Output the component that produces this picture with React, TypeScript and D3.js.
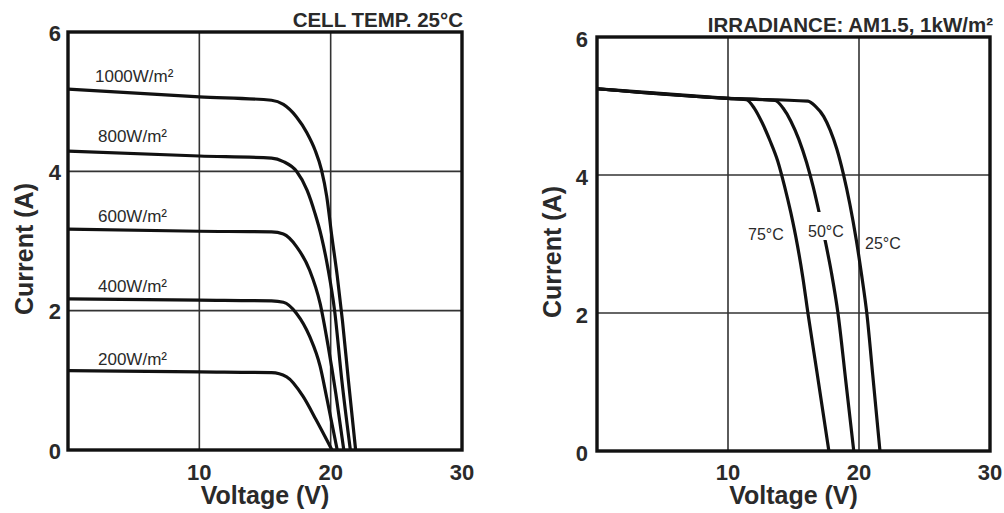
import React from "react";
import * as d3 from "d3";

// ---------- DATA ----------
const voltageTicks = [10, 20, 30];
const currentTicks = [0, 2, 4, 6];
const gridVoltages = [10, 20];
const gridCurrents = [2, 4];

const leftTitle = "CELL TEMP. 25°C";
const rightTitle = "IRRADIANCE: AM1.5, 1kW/m²";
const xAxisTitle = "Voltage (V)";
const yAxisTitle = "Current (A)";

const irradianceLabels = ["1000W/m²", "800W/m²", "600W/m²", "400W/m²", "200W/m²"];

const irr1000V = [0, 10, 15.5, 16.4, 17.4, 18.2, 18.8, 19.3, 19.7, 20.1, 20.5, 20.9, 21.35, 21.9];
const irr1000I = [5.18, 5.07, 5.02, 4.96, 4.78, 4.55, 4.31, 4.02, 3.64, 3.05, 2.5, 1.85, 1.0, 0];

const irr800V = [0, 10, 15.5, 16.4, 17.4, 18.2, 18.8, 19.3, 19.8, 20.3, 20.85, 21.5];
const irr800I = [4.29, 4.22, 4.19, 4.14, 4.0, 3.73, 3.4, 3.06, 2.6, 2.0, 1.0, 0];

const irr600V = [0, 10, 15.5, 16.4, 17.4, 18.4, 19.2, 19.8, 20.4, 21.0];
const irr600I = [3.17, 3.14, 3.13, 3.1, 2.92, 2.58, 2.1, 1.5, 0.8, 0];

const irr400V = [0, 10, 15.5, 16.4, 17.4, 18.4, 19.2, 19.7, 20.5];
const irr400I = [2.17, 2.15, 2.14, 2.12, 1.96, 1.63, 1.2, 0.75, 0];

const irr200V = [0, 10, 15.5, 16.65, 17.9, 18.9, 20.1];
const irr200I = [1.14, 1.12, 1.11, 1.05, 0.77, 0.43, 0];

const tempLabels = ["75°C", "50°C", "25°C"];

const temp75V = [0, 10, 11.4, 12.0, 12.6, 13.2, 13.8, 14.3, 14.8, 15.3, 15.7, 16.1, 16.8, 17.7];
const temp75I = [5.25, 5.11, 5.09, 4.97, 4.76, 4.5, 4.2, 3.85, 3.45, 2.98, 2.53, 2.0, 1.13, 0];

const temp50V = [0, 10, 13.6, 14.2, 14.8, 15.4, 16.0, 16.5, 17.0, 17.45, 17.9, 18.4, 19.0, 19.6];
const temp50I = [5.25, 5.11, 5.08, 4.97, 4.78, 4.52, 4.18, 3.83, 3.42, 3.02, 2.58, 1.99, 1.0, 0];

const temp25V = [0, 10, 16.1, 16.7, 17.3, 17.8, 18.3, 18.8, 19.3, 19.8, 20.2, 20.6, 21.05, 21.6];
const temp25I = [5.25, 5.11, 5.07, 4.99, 4.85, 4.65, 4.38, 4.02, 3.58, 3.05, 2.55, 1.99, 1.1, 0];

// ---------- LAYOUT ----------
const W = 1004;
const H = 513;
const FONT = "'Liberation Sans', Arial, Helvetica, sans-serif";
const INK = "#111";
const TEXT = "#2a2a2a";

type Pt = [number, number];
const zip = (v: number[], i: number[]): Pt[] => v.map((d, k) => [d, i[k]]);

const leftSeries = [
  zip(irr1000V, irr1000I),
  zip(irr800V, irr800I),
  zip(irr600V, irr600I),
  zip(irr400V, irr400I),
  zip(irr200V, irr200I),
];
const leftLabelPos = [
  { x: 95, y: 81.5 },
  { x: 98, y: 141.5 },
  { x: 98, y: 221.5 },
  { x: 98, y: 291.5 },
  { x: 98, y: 365 },
];

const rightSeries = [zip(temp75V, temp75I), zip(temp50V, temp50I), zip(temp25V, temp25I)];
const rightLabelPos = [
  { x: 748, y: 240, mask: false },
  { x: 808, y: 237, mask: true },
  { x: 865, y: 249, mask: false },
];

interface PanelProps {
  x0: number;
  x1: number;
  y0: number;
  y1: number;
  series: Pt[][];
  title: string;
  titleX: number;
  titleY: number;
  yTickX: number;
  yTickDy: number;
  yTitleX: number;
  yTitleY: number;
  children?: (sx: d3.ScaleLinear<number, number>, sy: d3.ScaleLinear<number, number>) => React.ReactNode;
}

function Panel(p: PanelProps) {
  const sx = d3.scaleLinear().domain([0, 30]).range([p.x0, p.x1]);
  const sy = d3.scaleLinear().domain([0, 6]).range([p.y1, p.y0]);
  const line = d3
    .line<Pt>()
    .x((d) => sx(d[0]))
    .y((d) => sy(d[1]))
    .curve(d3.curveMonotoneX);
  const cx = (p.x0 + p.x1) / 2;
  return (
    <g>
      {gridVoltages.map((v) => (
        <line key={"gv" + v} x1={sx(v)} x2={sx(v)} y1={sy(0)} y2={sy(6)} stroke="#333" strokeWidth={1.6} />
      ))}
      {gridCurrents.map((c) => (
        <line key={"gc" + c} x1={sx(0)} x2={sx(30)} y1={sy(c)} y2={sy(c)} stroke="#333" strokeWidth={1.6} />
      ))}
      {p.series.map((s, k) => (
        <path key={"s" + k} d={line(s) || ""} fill="none" stroke={INK} strokeWidth={3.2} strokeLinejoin="round" strokeLinecap="butt" />
      ))}
      <rect x={sx(0)} y={sy(6)} width={sx(30) - sx(0)} height={sy(0) - sy(6)} fill="none" stroke={INK} strokeWidth={3.4} />
      {p.children && p.children(sx, sy)}
      {currentTicks.map((c) => (
        <text key={"yt" + c} x={p.yTickX} y={sy(c) + p.yTickDy} textAnchor="end" dominantBaseline="central" fontFamily={FONT} fontWeight="bold" fontSize={22} fill={TEXT}>
          {c}
        </text>
      ))}
      {voltageTicks.map((v) => (
        <text key={"xt" + v} x={sx(v)} y={480} textAnchor="middle" fontFamily={FONT} fontWeight="bold" fontSize={22} fill={TEXT}>
          {v}
        </text>
      ))}
      <text x={cx} y={504} textAnchor="middle" fontFamily={FONT} fontWeight="bold" fontSize={25} fill={TEXT}>
        {xAxisTitle}
      </text>
      <text
        transform={`translate(${p.yTitleX},${p.yTitleY}) rotate(-90)`}
        textAnchor="middle"
        dominantBaseline="central"
        fontFamily={FONT}
        fontWeight="bold"
        fontSize={25}
        fill={TEXT}
      >
        {yAxisTitle}
      </text>
      <text x={p.titleX} y={p.titleY} textAnchor="end" fontFamily={FONT} fontWeight="bold" fontSize={20.5} fill={TEXT}>
        {p.title}
      </text>
    </g>
  );
}

export default function App() {
  return (
    <svg
      width={W}
      height={H}
      viewBox={`0 0 ${W} ${H}`}
      style={{ position: "absolute", left: 0, top: 0, background: "#fff", display: "block" }}
    >
      <rect x={0} y={0} width={W} height={H} fill="#fff" />
      <Panel
        x0={68}
        x1={462}
        y0={32}
        y1={450}
        series={leftSeries}
        title={leftTitle}
        titleX={463}
        titleY={27}
        yTickX={61}
        yTickDy={1}
        yTitleX={24}
        yTitleY={249}
      >
        {() =>
          irradianceLabels.map((t, k) => (
            <text key={"il" + k} x={leftLabelPos[k].x} y={leftLabelPos[k].y} fontFamily={FONT} fontSize={17} fill={TEXT}>
              {t}
            </text>
          ))
        }
      </Panel>
      <Panel
        x0={597}
        x1={990}
        y0={37}
        y1={451}
        series={rightSeries}
        title={rightTitle}
        titleX={993}
        titleY={32}
        yTickX={588}
        yTickDy={2}
        yTitleX={552}
        yTitleY={252}
      >
        {() =>
          tempLabels.map((t, k) => (
            <g key={"tl" + k}>
              {rightLabelPos[k].mask && (
                <rect x={rightLabelPos[k].x - 2} y={rightLabelPos[k].y - 25} width={40} height={28} fill="#fff" />
              )}
              <text x={rightLabelPos[k].x} y={rightLabelPos[k].y} fontFamily={FONT} fontSize={16} fill={TEXT}>
                {t}
              </text>
            </g>
          ))
        }
      </Panel>
    </svg>
  );
}
